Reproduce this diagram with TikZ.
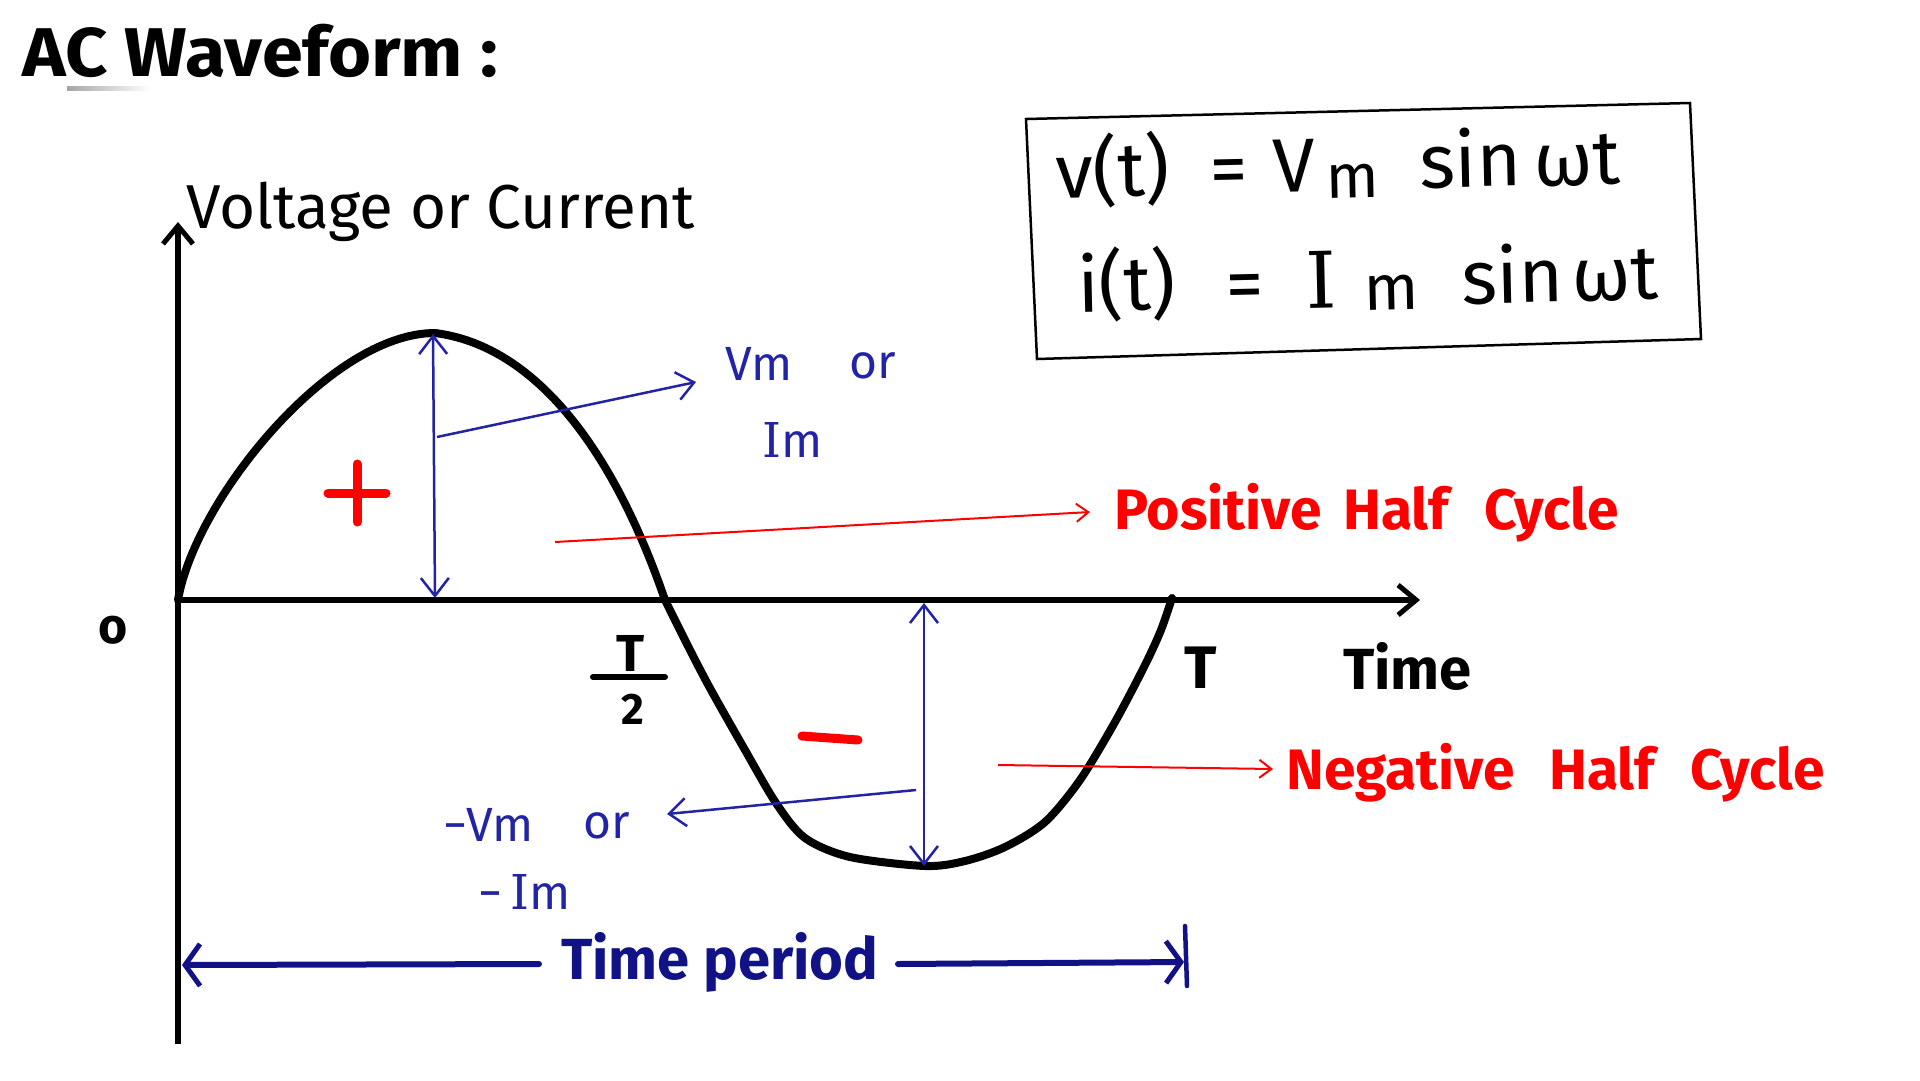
\documentclass[tikz,border=0pt]{standalone}
\usepackage{fontspec}
\setmainfont{Fira Sans}
\newfontfamily\serifI{DejaVu Serif}
\usetikzlibrary{arrows.meta}
\definecolor{navy}{RGB}{18,18,135}
\definecolor{pen}{RGB}{35,35,165}
\definecolor{redc}{RGB}{255,0,0}
\newcommand{\fs}[1]{\fontsize{#1}{#1}\selectfont}
\tikzset{
  lbl/.style={inner sep=0pt, anchor=base west},
  axisline/.style={line width=6pt, -{Straight Barb[length=18pt,width=30pt,line width=5pt]}},
  penline/.style={pen, line width=2.5pt, -{Straight Barb[length=17pt,width=28pt,line width=2.5pt]}},
  pentwo/.style={pen, line width=2.5pt, {Straight Barb[length=18pt,width=28pt,line width=2.5pt]}-{Straight Barb[length=18pt,width=28pt,line width=2.5pt]}},
  redline/.style={redc, line width=2pt, -{Straight Barb[length=12pt,width=18pt,line width=2pt]}},
  navyline/.style={navy, line width=6pt, line cap=round, -{Straight Barb[length=15pt,width=42pt,line width=5pt]}},
  curve/.style={line width=8pt, line join=round, line cap=round},
  frm/.style={inner sep=0pt, anchor=base west, font=\fs{76}, rotate=1.3},
  bl/.style={inner sep=0pt, anchor=base west, pen, font=\fs{48}},
  rl/.style={inner sep=0pt, anchor=base west, redc, font=\fs{57}\bfseries},
}
\begin{document}
\begin{tikzpicture}[x=1pt,y=-1pt]
\fill[white] (0,0) rectangle (1920,1080);
\useasboundingbox (0,0) rectangle (1920,1080);

% title
\node[lbl, font=\fs{69}\bfseries, xscale=1.07] (title) at (22,76) {AC Waveform :};
\shade[left color=gray!70, right color=white] (67,86) rectangle (150,90);

% axes
\coordinate (O) at (178,600);
\coordinate (ytop) at (178,222);
\coordinate (ybot) at (178,1044);
\coordinate (xend) at (1420,600);
\draw[axisline] (ybot) -- (ytop);
\draw[axisline] (O) -- (xend);

% waveform
\draw[curve] (178,600) .. controls (195,500) and (330,333) .. (435,333)
  .. controls (530,345) and (610,440) .. (665,600)
  -- plot[smooth, tension=0.5] coordinates {
 (665,600) (690,650) (711,690) (745,750) (776,803) (805,838) (850,857)
 (925,866) (965,861) (1005,847) (1045,822) (1080,780) (1115,722) (1145,665) (1161,630) (1172,598)};

% axis labels
\node[lbl, font=\fs{62}] (vc) at (186,228) {Voltage or Current};
\node[font=\fs{50}\bfseries, inner sep=0pt] (o) at (113,630) {o};
\node[lbl, font=\fs{58}\bfseries] (time) at (1343,689) {Time};
\node[lbl, font=\fs{60}\bfseries] (T) at (1184,688) {T};
\node[font=\fs{52}\bfseries, inner sep=0pt, anchor=base] (Th) at (631,671) {T};
\coordinate (fb1) at (593,677);
\coordinate (fb2) at (665,677);
\draw[line width=6pt, line cap=round] (fb1) -- (fb2);
\node[font=\fs{44}\bfseries, inner sep=0pt, anchor=base] (two) at (633,724) {2};

% signs
\draw[redc, line width=9pt, line cap=round] (328,493) -- (386,493);
\draw[redc, line width=9pt, line cap=round] (357,464) -- (357,522);
\draw[redc, line width=9pt, line cap=round] (802,736) -- (858,740);

% peak arrows
\coordinate (pk) at (433,334);
\coordinate (pb) at (435,598);
\draw[pentwo] (pk) -- (pb);
\coordinate (nk) at (924,603);
\coordinate (nb) at (924,866);
\draw[pentwo] (nk) -- (nb);

% Vm labels
\node[bl] (vm) at (725,380) {Vm};
\node[bl] (vmor) at (849,378) {or};
\node[bl] (im) at (762,457) {{\serifI I}m};
\node[bl] (nvm) at (443,841) {−Vm};
\node[bl] (nvmor) at (583,838) {or};
\node[bl] (nim) at (478,909) {−\hspace{8pt}{\serifI I}m};
\coordinate (p1) at (437,437);
\coordinate (vmtip) at (696,382);
\draw[penline] (p1) -- (vmtip);
\coordinate (p2) at (916,790);
\coordinate (nvmtip) at (667,814);
\draw[penline] (p2) -- (nvmtip);

% half cycle labels
\node[rl] (pos1) at (1114,529) {Positive};
\node[rl] (pos2) at (1343,529) {Half};
\node[rl] (pos3) at (1484,529) {Cycle};
\node[rl] (neg1) at (1286,789) {Negative};
\node[rl] (neg2) at (1549,789) {Half};
\node[rl] (neg3) at (1690,789) {Cycle};
\coordinate (r1) at (555,542);
\coordinate (r1t) at (1090,512);
\draw[redline] (r1) -- (r1t);
\coordinate (r2) at (998,765);
\coordinate (r2t) at (1273,769);
\draw[redline] (r2) -- (r2t);

% time period
\node[lbl, navy, font=\fs{58}\bfseries] (tp) at (561,979) {Time period};
\coordinate (tl) at (539,964);
\coordinate (tlend) at (182,965);
\coordinate (tr) at (898,964);
\coordinate (trend) at (1184,962);
\draw[navyline] (tl) -- (tlend);
\draw[navyline] (tr) -- (trend);
\coordinate (bar1) at (1185,926);
\coordinate (bar2) at (1187,986);
\draw[navy, line width=4.5pt, line cap=round] (bar1) -- (bar2);

% formula box
\coordinate (b1) at (1026,119);
\coordinate (b2) at (1690,103);
\coordinate (b3) at (1701,339);
\coordinate (b4) at (1037,359);
\draw[line width=2.5pt, line join=miter] (b1) -- (b2) -- (b3) -- (b4) -- cycle;
\node[frm] (f1a) at (1056,198) {v(t)};
\node[frm] (f1b) at (1210,195) {=};
\node[frm] (f1c) at (1273,192) {V};
\node[frm, font=\fs{62}] (f1d) at (1326,198) {m};
\node[frm] (f1e) at (1420,188) {sin};
\node[frm] (f1f) at (1534,186) {ωt};
\node[frm] (f2a) at (1078,312) {i(t)};
\node[frm] (f2b) at (1226,310) {=};
\node[frm, font=\fs{78}\serifI] (f2c) at (1306,308) {I};
\node[frm, font=\fs{64}] (f2d) at (1364,310) {m};
\node[frm] (f2e) at (1462,304) {sin};
\node[frm] (f2f) at (1572,301) {ωt};
\end{tikzpicture}
\end{document}
